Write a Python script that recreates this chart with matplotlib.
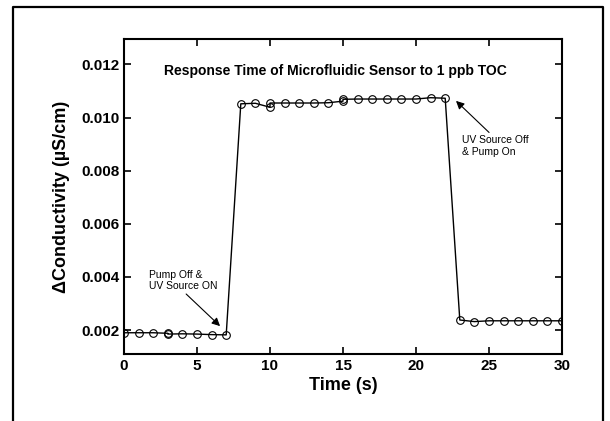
import numpy as np
import matplotlib
matplotlib.use('Agg')
import matplotlib.pyplot as plt
from matplotlib.lines import Line2D

plt.rcParams['font.family'] = ['Liberation Sans', 'DejaVu Sans']

# readings
time_s = [0, 1, 2, 3, 3, 4, 5, 6, 7,
          8, 9, 10, 10, 11, 12, 13, 14, 15, 15, 16, 17, 18, 19, 20, 21, 22,
          23, 24, 25, 26, 27, 28, 29, 30]
cond = [0.00190, 0.00190, 0.00190, 0.00188, 0.00185, 0.00186, 0.00185, 0.00183, 0.00182,
        0.01052, 0.01054, 0.01039, 0.01055, 0.01055, 0.01055, 0.01055, 0.01056, 0.01062, 0.01069,
        0.01070, 0.01070, 0.01070, 0.01070, 0.01070, 0.01075, 0.01073,
        0.00238, 0.00232, 0.00235, 0.00235, 0.00235, 0.00235, 0.00235, 0.00235]

x_ticks = [0, 5, 10, 15, 20, 25, 30]
y_ticks = [0.002, 0.004, 0.006, 0.008, 0.010, 0.012]

fig = plt.figure(figsize=(6.1, 4.21), dpi=100)
ax = fig.add_axes([124/610., 1-354/421., 438/610., 315/421.])

# outer frame (open at the bottom, as in the scanned page)
fx = [13/610., 13/610., 603/610., 603/610.]
fy = [0.0, 1-7/421., 1-7/421., 0.0]
fig.lines.append(Line2D(fx, fy, transform=fig.transFigure, color='k', lw=1.6))

ax.plot(time_s, cond, color='k', lw=1.0, marker='o', ms=5.5, mfc='none', mec='k', mew=0.8)

ax.set_xlim(0, 30)
ax.set_ylim(0.0011, 0.01296)
ax.set_xticks(x_ticks)
ax.set_yticks(y_ticks)
ax.set_yticklabels(['%.3f' % v for v in y_ticks])
ax.tick_params(direction='in', length=5, width=1.2, top=True, right=True,
               labelsize=11)
for lab in ax.get_xticklabels() + ax.get_yticklabels():
    lab.set_fontweight('bold')
for sp in ax.spines.values():
    sp.set_linewidth(1.5)

ax.set_xlabel('Time (s)', fontsize=13, fontweight='bold', labelpad=3)
ax.set_ylabel('\u0394Conductivity (\u00b5S/cm)', fontsize=13, fontweight='bold', labelpad=8)

ax.text(14.45, 0.01175, 'Response Time of Microfluidic Sensor to 1 ppb TOC',
        ha='center', va='center', fontsize=10, fontweight='bold')

ax.annotate('UV Source Off\n& Pump On', xy=(22.74, 0.01063), xytext=(23.15, 0.00893),
            ha='left', va='center', fontsize=7.5,
            arrowprops=dict(arrowstyle='-|>', color='k', lw=0.8, mutation_scale=12,
                            shrinkA=0, shrinkB=0, relpos=(0.45, 1.0)))
ax.annotate('Pump Off &\nUV Source ON', xy=(6.58, 0.00215), xytext=(1.71, 0.00387),
            ha='left', va='center', fontsize=7.5,
            arrowprops=dict(arrowstyle='-|>', color='k', lw=0.8, mutation_scale=12,
                            shrinkA=0, shrinkB=0, relpos=(0.5, 0.0)))

fig.savefig('out.png', dpi=100)
